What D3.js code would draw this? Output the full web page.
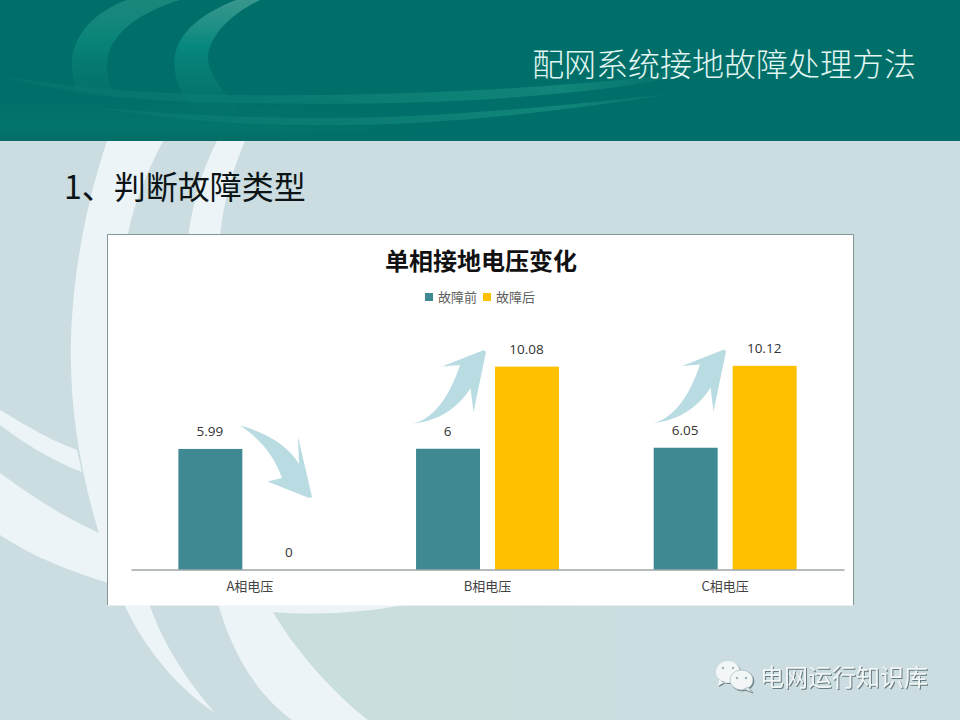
<!DOCTYPE html>
<html><head><meta charset="utf-8">
<script src="https://cdn.jsdelivr.net/npm/d3@7"></script>
<style>
html,body{margin:0;padding:0;background:#cbdde0}
svg{display:block}
text{font-family:"Noto Sans CJK SC","Noto Sans",sans-serif}
.num{font-family:"Open Sans","Noto Sans",sans-serif}
</style></head><body>
<svg id="c" width="960" height="720"></svg>
<script>
const categories = ["A相电压", "B相电压", "C相电压"];
const seriesNames = ["故障前", "故障后"];
const before = [5.99, 6, 6.05];
const after = [0, 10.08, 10.12];
const seriesColors = ["#3f8993", "#ffc000"];
const pageTitle = "配网系统接地故障处理方法";
const heading = "1、判断故障类型";
const chartTitle = "单相接地电压变化";
const watermark = "电网运行知识库";

const svg = d3.select("#c");
const defs = svg.append("defs");
function grad(id, x1, y1, x2, y2, stops){
  const g = defs.append("linearGradient").attr("id", id).attr("gradientUnits","userSpaceOnUse")
    .attr("x1",x1).attr("y1",y1).attr("x2",x2).attr("y2",y2);
  stops.forEach(s => g.append("stop").attr("offset",s[0]).attr("stop-color",s[1]).attr("stop-opacity",s[2]));
}
grad("sw1",0,0,0,100,[[0,"#2f9a8b",.55],[.4,"#0a897b",.8],[.75,"#0a8074",.45],[1,"#0a8074",0]]);
grad("sw2",0,0,0,115,[[0,"#4aa398",.75],[.4,"#06897f",.95],[.75,"#0a8074",.5],[1,"#0a8074",0]]);
grad("st1",0,0,700,0,[[0,"#0f8377",.2],[.3,"#0f8377",.45],[.8,"#14897c",.85],[1,"#14897c",0]]);
grad("low",0,100,0,141,[[0,"#057a6e",0],[.7,"#067a6e",.55],[1,"#056b63",.6]]);
grad("lowx",0,0,420,0,[[0,"#fff",1],[.6,"#fff",1],[1,"#fff",0]]);
grad("tint",260,0,620,0,[[0,"#c9dedd",1],[.55,"#c9dedd",1],[1,"#c9dedd",0]]);
defs.append("mask").attr("id","lowMask").append("rect").attr("width",960).attr("height",141).attr("fill","url(#lowx)");

/* page background */
svg.append("rect").attr("width",960).attr("height",720).attr("fill","#cbdde0");
svg.append("path").attr("fill","url(#tint)").attr("d","M260,606 H620 V720 H340 Z");
const bg = svg.append("g").attr("fill","#ecf4f7");
bg.append("path").attr("d","M107,141 C84,210 66,300 72,390 C76,450 90,520 125,606 C145,650 180,690 215,713 C195,690 165,650 150,606 L120,300 L128,233 C135,200 148,170 163,141 Z");
bg.append("path").attr("d","M217,141 C205,165 195,190 188,238 L220,238 C224,195 235,165 245,141 Z");
bg.append("path").attr("d","M0,410 C25,425 50,440 77,450 L82,472 C50,460 20,440 0,425 Z");
bg.append("path").attr("d","M0,473 C30,495 60,515 93,530 L112,540 L112,584 C70,572 30,555 0,535 Z");
bg.append("path").attr("d","M217,600 C228,640 250,690 292,720 L368,720 C335,695 295,650 273,612 C320,616 380,612 425,600 Z");

/* header band */
svg.append("rect").attr("width",960).attr("height",141).attr("fill","#016f69");
svg.append("rect").attr("y",100).attr("width",960).attr("height",41).attr("fill","url(#low)").attr("mask","url(#lowMask)");
svg.append("path").attr("fill","url(#st1)").attr("d","M0,76 C90,90 160,94 240,95 C400,97 540,88 650,77 L705,52 L724,36 L735,42 C720,60 680,76 650,82 C540,100 400,106 240,103 C150,102 80,96 0,76 Z");
svg.append("path").attr("fill","url(#st1)").attr("d","M100,108 C160,113 220,117 300,118 C420,120 560,106 670,94 C560,112 420,128 300,125 C220,124 160,118 100,108 Z");
svg.append("path").attr("fill","url(#sw1)").attr("d","M127,0 C95,12 76,32 72,58 C71,72 74,88 82,100 L118,100 C108,84 105,70 108,55 C114,32 140,12 180,0 Z");
svg.append("path").attr("fill","url(#sw2)").attr("d","M236,0 C205,12 180,30 175,55 C172,75 180,95 198,115 L245,115 C222,92 207,72 208,55 C212,32 232,14 260,0 Z");

/* headings */
svg.append("text").attr("x",916).attr("y",76).attr("text-anchor","end").attr("font-size",32)
  .attr("font-weight",300).attr("fill","#e2f6f3").text(pageTitle);
svg.append("text").attr("x",64).attr("y",199).attr("font-size",32).attr("fill","#0c1416").text(heading);

/* chart card */
svg.append("rect").attr("x",107.5).attr("y",234.5).attr("width",746).attr("height",371)
  .attr("fill","#fff");
svg.append("path").attr("d","M107.5,605 V234.5 H853.5 V605").attr("fill","none").attr("stroke","#82979a").attr("stroke-width",1);

const plot = {left:131, right:844, top:328, bottom:569.5};
const x0 = d3.scaleBand().domain(categories).range([plot.left,plot.right]);
const x1 = d3.scaleBand().domain(seriesNames).range([0,x0.bandwidth()]).paddingInner(0.19).paddingOuter(0.6);
const y = d3.scaleLinear().domain([0,12]).range([plot.bottom,plot.top]);

svg.append("text").attr("x",481).attr("y",270).attr("text-anchor","middle").attr("font-size",24)
  .attr("font-weight",700).attr("fill","#111").text(chartTitle);

/* legend */
const legendX = [425, 483];
const legend = svg.append("g").selectAll("g").data(seriesNames).join("g")
  .attr("transform",(d,i)=>`translate(${legendX[i]},293)`);
legend.append("rect").attr("width",8).attr("height",8).attr("fill",(d,i)=>seriesColors[i]);
legend.append("text").attr("x",13).attr("y",9).attr("font-size",13).attr("fill","#5f5f5f").text(d=>d);

/* bars */
const rows = categories.map((c,i)=>({c,vals:[before[i],after[i]]}));
const groups = svg.append("g").selectAll("g").data(rows).join("g")
  .attr("transform",d=>`translate(${x0(d.c)},0)`);
const items = d=>d.vals.map((v,i)=>({v,i,name:seriesNames[i]}));
groups.selectAll("rect").data(items).join("rect")
  .attr("x",d=>x1(d.name)).attr("width",x1.bandwidth())
  .attr("y",d=>y(d.v)).attr("height",d=>y(0)-y(d.v))
  .attr("fill",d=>seriesColors[d.i]);
groups.selectAll("text").data(items).join("text").attr("class","num")
  .attr("x",d=>x1(d.name)+x1.bandwidth()/2-0.5).attr("y",d=>y(d.v)-12.5)
  .attr("text-anchor","middle").attr("font-size",13.5).attr("fill","#333").text(d=>d.v);

/* axis */
const axis = svg.append("g").attr("transform",`translate(0,${plot.bottom})`)
  .call(d3.axisBottom(x0).tickSize(0).tickPadding(12));
axis.select(".domain").attr("stroke","#6f7b7d").attr("stroke-width",1);
axis.selectAll("text").attr("font-size",13).attr("fill","#444")
  .style("font-family",'"Noto Sans CJK SC",sans-serif');

/* trend arrows */
const arrowFill = "#b9dce2";
svg.append("path").attr("fill",arrowFill)
  .attr("d","M240,425.5 C265,432 288,445 299,464 L298,436.5 L312,497 L309,498 L267.5,481.5 L282,478 C275,458 262,440 240,425.5 Z");
const up = "M413.5,423.5 C435,418 450,395 460,365 L442,366.5 L484,350 L486,352 L473.5,412 L470.5,388 C460,405 443,420 413.5,423.5 Z";
svg.append("path").attr("fill",arrowFill).attr("d",up);
svg.append("path").attr("fill",arrowFill).attr("d",up).attr("transform","translate(240,-0.5)");

/* watermark */
const wm = svg.append("g").style("filter","drop-shadow(1px 1px 0.6px rgba(60,80,85,.7))");
wm.append("path").attr("fill","#f3f6f6").attr("d","M716,672 a12,11 0 1 1 24,0 a12,11 0 0 1 -24,0 Z M719,680 l-1,6 l7,-4 Z");
wm.append("path").attr("fill","#f3f6f6").attr("stroke","#a9bcc0").attr("stroke-width",.7).attr("d","M730,680 a11.5,10 0 1 1 23,0 a11.5,10 0 0 1 -23,0 Z M748,687 l4,5 l-8,-3 Z");
wm.selectAll("circle").data([[723,668],[733,668],[737,678],[746,678]]).join("circle")
  .attr("cx",d=>d[0]).attr("cy",d=>d[1]).attr("r",1.2).attr("fill","#9fb2b5");
wm.append("text").attr("x",760).attr("y",686).attr("font-size",24).attr("fill","#f2f6f6").text(watermark);
</script>
</body></html>
